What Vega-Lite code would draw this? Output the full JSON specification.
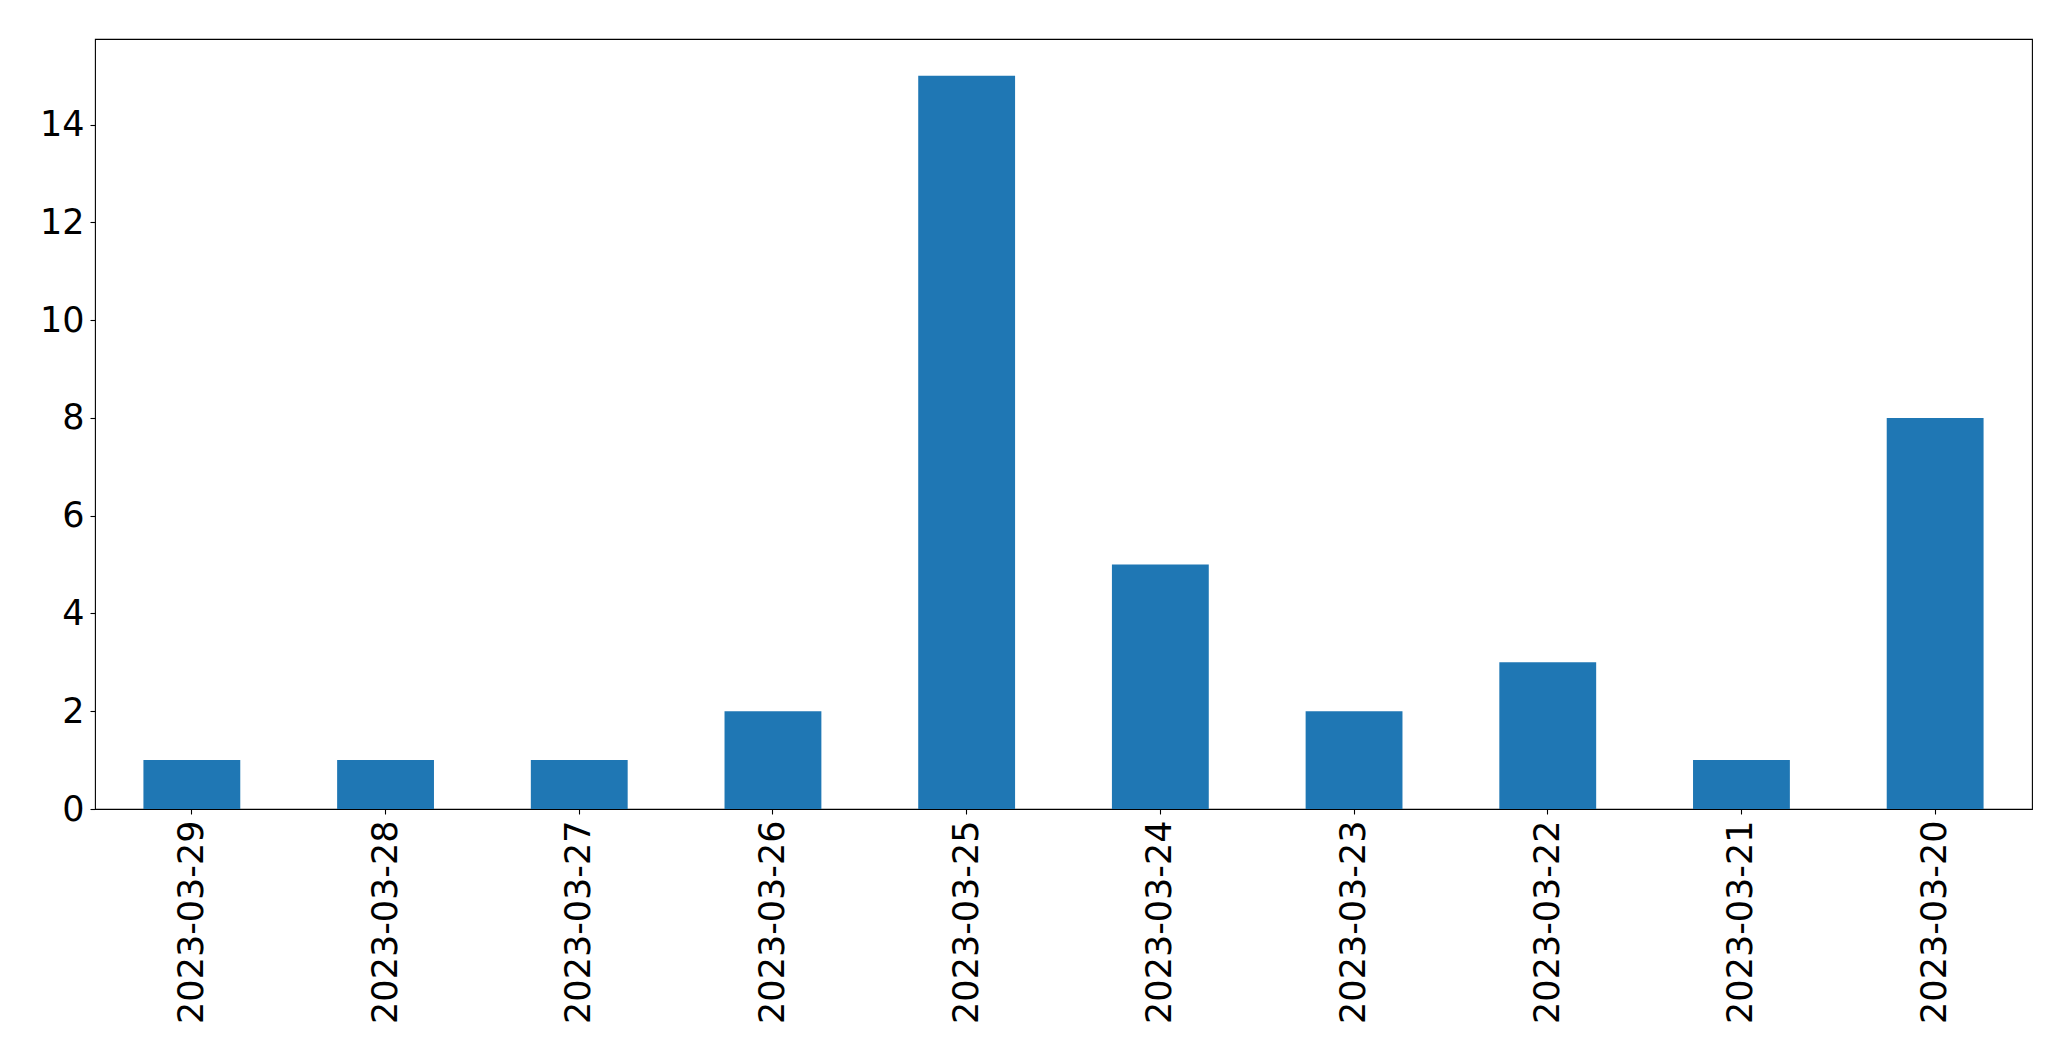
{
  "$schema": "https://vega.github.io/schema/vega-lite/v6.json",
  "autosize": "none",
  "width": 1937,
  "height": 770,
  "padding": {"left": 95, "top": 39, "right": 39, "bottom": 252},
  "background": "white",
  "config": {
    "view": {"stroke": "#000000", "strokeWidth": 1.1},
    "axis": {
      "labelFont": "DejaVu Sans",
      "labelFontSize": 35,
      "labelColor": "#000000",
      "labelLimit": 0,
      "tickColor": "#000000",
      "tickSize": 5,
      "tickWidth": 1.1,
      "domain": false,
      "grid": false,
      "title": null
    }
  },
  "data": {
    "values": [
      {"date": "2023-03-29", "count": 1},
      {"date": "2023-03-28", "count": 1},
      {"date": "2023-03-27", "count": 1},
      {"date": "2023-03-26", "count": 2},
      {"date": "2023-03-25", "count": 15},
      {"date": "2023-03-24", "count": 5},
      {"date": "2023-03-23", "count": 2},
      {"date": "2023-03-22", "count": 3},
      {"date": "2023-03-21", "count": 1},
      {"date": "2023-03-20", "count": 8}
    ]
  },
  "mark": {"type": "bar", "color": "#1f77b4"},
  "encoding": {
    "x": {
      "field": "date",
      "type": "nominal",
      "sort": null,
      "scale": {"paddingInner": 0.5, "paddingOuter": 0.25},
      "axis": {"labelAngle": -90, "labelAlign": "right", "labelBaseline": "middle", "labelPadding": 6}
    },
    "y": {
      "field": "count",
      "type": "quantitative",
      "scale": {"domain": [0, 15.75], "nice": false, "zero": true},
      "axis": {"values": [0, 2, 4, 6, 8, 10, 12, 14], "labelPadding": 6}
    }
  }
}
